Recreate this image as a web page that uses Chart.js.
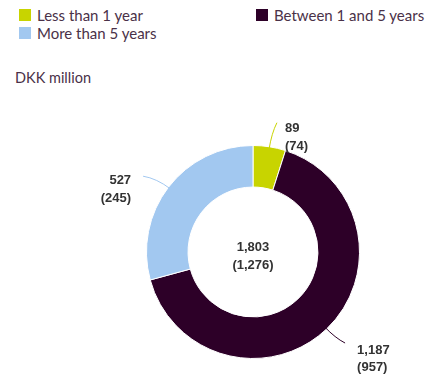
<!DOCTYPE html>
<html>
<head>
<meta charset="utf-8">
<script src="https://cdn.jsdelivr.net/npm/chart.js@4"></script>
<style>
  body { margin: 0; background: #fff; }
  #wrap { position: relative; width: 426px; height: 374px; overflow: hidden; font-family: Lato, "Open Sans", sans-serif; color: #4a3148; }
  .leg { position: absolute; font-size: 15px; line-height: 16px; white-space: nowrap; }
  .leg i { position: absolute; left: 0; top: 2px; width: 12px; height: 12px; }
  .leg span { padding-left: 18px; }
  #unit { position: absolute; left: 15px; top: 70px; font-size: 14.5px; line-height: 16px; }
  canvas { position: absolute; left: 0; top: 0; }
</style>
</head>
<body>
<div id="wrap">
  <div class="leg" style="left:19px;top:7px"><i style="background:#c8d400"></i><span>Less than 1 year</span></div>
  <div class="leg" style="left:256px;top:7px"><i style="background:#2d0028"></i><span>Between 1 and 5 years</span></div>
  <div class="leg" style="left:19px;top:25px"><i style="background:#a2c8f0"></i><span>More than 5 years</span></div>
  <div id="unit">DKK million</div>
  <canvas id="donutChart" width="426" height="374"></canvas>
</div>
<script>
const categories = ["Less than 1 year", "Between 1 and 5 years", "More than 5 years"];
const currentValues = [89, 1187, 527];
const priorValues = [74, 957, 245];
const totalCurrent = "1,803";
const totalPrior = "(1,276)";
const sliceColors = ["#c8d400", "#2d0028", "#a2c8f0"];

const fmt = v => v.toLocaleString("en-US");

// per-slice leader tweaks: angle shift (deg), end radius beyond ring, label offset
const leaderStyle = [
    { da: 1.6, ext: 25, dx: 8, dy: 6 },
    { da: -1.6, ext: 23, dx: 12, dy: 7 },
    { da: -2.8, ext: 27, dx: -12, dy: 4.5 }
];

const labelPlugin = {
    id: "labels",
    afterDatasetsDraw(chart) {
        const ctx = chart.ctx;
        const meta = chart.getDatasetMeta(0);
        ctx.save();
        ctx.font = "bold 13px 'Liberation Sans', Arial, sans-serif";
        ctx.fillStyle = "#333";
        meta.data.forEach((arc, i) => {
            const s = leaderStyle[i];
            const mid = (arc.startAngle + arc.endAngle) / 2;
            const end = mid + s.da * Math.PI / 180;
            const r0 = arc.outerRadius - 3;
            const r1 = arc.outerRadius + s.ext;
            const rc = arc.outerRadius + s.ext * 0.55;
            const x0 = arc.x + Math.cos(mid) * r0, y0 = arc.y + Math.sin(mid) * r0;
            const x1 = arc.x + Math.cos(end) * r1, y1 = arc.y + Math.sin(end) * r1;
            const cx = arc.x + Math.cos(mid) * rc, cy = arc.y + Math.sin(mid) * rc;
            ctx.strokeStyle = sliceColors[i];
            ctx.lineWidth = 1;
            ctx.beginPath();
            ctx.moveTo(x0, y0);
            ctx.quadraticCurveTo(cx, cy, x1, y1);
            ctx.stroke();
            ctx.textAlign = s.dx >= 0 ? "left" : "right";
            ctx.textBaseline = "middle";
            const tx = x1 + s.dx;
            const ty = y1 + s.dy;
            ctx.fillText(fmt(currentValues[i]), tx, ty);
            ctx.fillText("(" + fmt(priorValues[i]) + ")", tx, ty + 17.5);
        });
        const c = meta.data[0];
        ctx.textAlign = "center";
        ctx.fillText(totalCurrent, c.x, c.y - 5);
        ctx.fillText(totalPrior, c.x, c.y + 13);
        ctx.restore();
    }
};

new Chart(document.getElementById("donutChart"), {
    type: "doughnut",
    data: {
        labels: categories,
        datasets: [{
            data: currentValues,
            backgroundColor: sliceColors,
            borderColor: "#fff",
            borderWidth: 1,
            hoverOffset: 0
        }]
    },
    options: {
        responsive: false,
        animation: false,
        cutout: "61%",
        layout: { padding: { left: 146, right: 66, top: 145, bottom: 15 } },
        plugins: {
            legend: { display: false },
            tooltip: { enabled: false }
        }
    },
    plugins: [labelPlugin]
});
</script>
</body>
</html>
